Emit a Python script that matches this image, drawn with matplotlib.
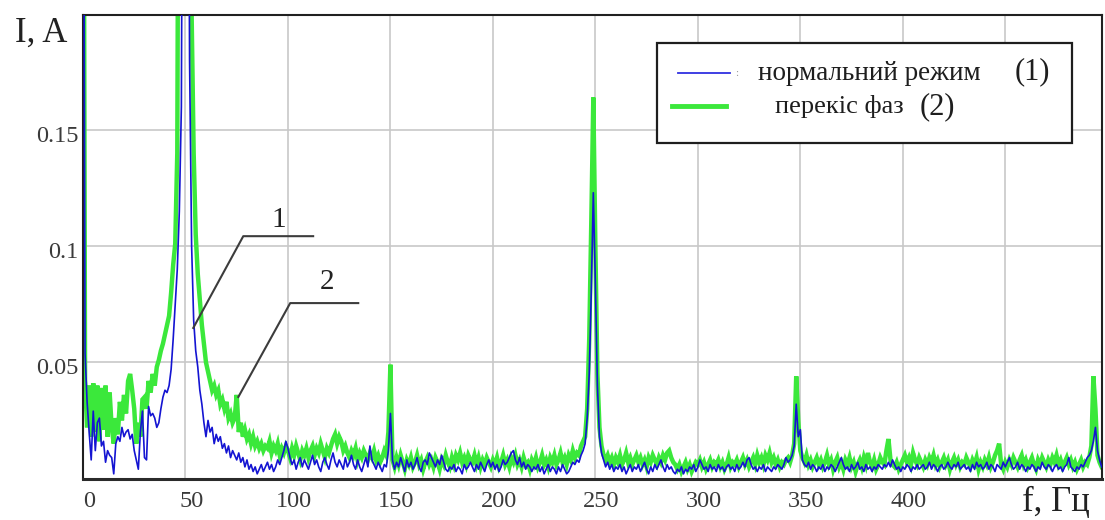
#!/usr/bin/python
"""
Current spectrum: normal mode vs. phase imbalance
"""

import numpy as np
import matplotlib
matplotlib.use("Agg")
import matplotlib.pyplot as plt
from matplotlib.transforms import ScaledTranslation
from matplotlib.lines import Line2D
from matplotlib.patches import Rectangle

plt.rcParams['font.family'] = ['Liberation Serif', 'DejaVu Serif']

# spectrum amplitude in mA, one value per 1 Hz starting from 0 Hz
i_normal_ma = [
    400, 54, 33, 20, 8, 29, 12, 24, 26, 14,
    16, 7, 12, 10, 9, 2, 15, 18, 16, 22,
    18, 20, 21, 17, 19, 12, 8, 4, 20, 29,
    9, 8, 31, 27, 28, 26, 22, 24, 30, 35,
    38, 37, 40, 47, 60, 75, 90, 115, 160, 400,
    400, 400, 180, 100, 68, 55, 48, 38, 32, 24,
    18, 25, 20, 22, 15, 19, 16, 18, 13, 15,
    11, 14, 9, 12, 10, 8, 11, 7, 9, 5,
    8, 4, 6, 3, 5, 2, 4, 6, 3, 5,
    7, 4, 6, 3, 5, 8, 6, 9, 12, 16,
    13, 9, 6, 8, 4, 7, 9, 5, 8, 6,
    4, 7, 10, 6, 8, 5, 3, 7, 9, 6,
    4, 8, 11, 7, 5, 8, 6, 4, 9, 5,
    7, 10, 6, 4, 8, 5, 3, 6, 9, 5,
    14, 8, 6, 4, 7, 5, 3, 6, 5, 12,
    28, 8, 4, 7, 5, 9, 6, 3, 8, 5,
    7, 4, 6, 9, 5, 3, 7, 8, 6, 11,
    9, 7, 5, 8, 6, 10, 7, 4, 3, 5,
    4, 6, 3, 5, 4, 2, 6, 4, 5, 7,
    5, 3, 6, 4, 7, 5, 3, 6, 8, 5,
    7, 4, 6, 3, 5, 8, 6, 7, 9, 11,
    12, 8, 6, 9, 5, 7, 4, 6, 5, 3,
    5, 4, 6, 3, 5, 2, 4, 6, 3, 5,
    4, 2, 5, 3, 6, 4, 2, 3, 5, 7,
    6, 8, 7, 10, 12, 15, 26, 45, 80, 123,
    84, 40, 18, 11, 8, 5, 7, 4, 6, 3,
    5, 4, 6, 3, 5, 2, 4, 6, 3, 5,
    4, 6, 3, 5, 7, 4, 2, 5, 3, 6,
    4, 6, 8, 5, 3, 6, 4, 5, 3, 2,
    4, 3, 5, 2, 4, 3, 5, 4, 6, 3,
    5, 8, 6, 4, 5, 3, 6, 4, 5, 3,
    6, 4, 5, 3, 5, 6, 4, 5, 3, 6,
    4, 5, 7, 5, 8, 9, 6, 4, 5, 3,
    5, 4, 6, 3, 5, 4, 3, 5, 4, 6,
    5, 4, 6, 9, 7, 8, 10, 14, 32, 18,
    21, 8, 6, 5, 7, 4, 6, 5, 3, 5,
    4, 6, 3, 5, 4, 6, 5, 3, 5, 7,
    9, 6, 4, 5, 3, 6, 4, 5, 7, 4,
    5, 3, 6, 4, 5, 3, 5, 4, 6, 5,
    4, 6, 5, 7, 5, 8, 6, 4, 5, 3,
    5, 4, 6, 5, 3, 5, 4, 6, 4, 5,
    6, 4, 5, 7, 4, 6, 5, 3, 5, 6,
    4, 5, 7, 5, 4, 6, 5, 7, 4, 5,
    6, 4, 5, 3, 6, 4, 7, 5, 6, 4,
    5, 7, 4, 6, 5, 3, 6, 5, 4, 7,
    5, 7, 9, 6, 4, 5, 7, 4, 6, 5,
    3, 5, 4, 6, 5, 3, 5, 4, 7, 5,
    4, 6, 5, 3, 5, 6, 4, 5, 3, 5,
    6, 9, 5, 4, 3, 5, 4, 6, 5, 7,
    9, 10, 12, 16, 22, 12, 8, 5,
]

i_skew_ma = [
    400, 42, 22, 40, 18, 41, 20, 40, 16, 39,
    21, 40, 18, 37, 22, 15, 26, 19, 33, 25,
    36, 28, 42, 45, 38, 30, 15, 24, 18, 34,
    35, 30, 42, 37, 45, 40, 48, 51, 55, 58,
    62, 66, 70, 80, 92, 101, 140, 400, 400, 400,
    400, 400, 400, 200, 140, 105, 88, 77, 66, 58,
    50, 46, 42, 38, 40, 36, 38, 32, 34, 30,
    33, 26, 28, 24, 26, 36, 20, 24, 18, 21,
    17, 19, 15, 18, 14, 16, 13, 15, 12, 14,
    13, 16, 11, 14, 12, 15, 10, 13, 11, 14,
    12, 9, 13, 10, 14, 11, 8, 12, 10, 13,
    9, 12, 14, 10, 13, 11, 15, 12, 9, 13,
    11, 14, 17, 19, 15, 18, 16, 12, 14, 11,
    9, 12, 10, 13, 8, 11, 9, 12, 10, 8,
    11, 9, 12, 8, 10, 7, 9, 12, 10, 20,
    49, 8, 5, 9, 6, 10, 7, 4, 8, 6,
    9, 5, 7, 10, 6, 8, 4, 7, 9, 6,
    8, 5, 9, 7, 4, 8, 6, 10, 7, 5,
    9, 6, 10, 8, 11, 7, 9, 6, 10, 8,
    7, 10, 6, 9, 5, 8, 6, 9, 7, 5,
    8, 6, 9, 5, 7, 10, 6, 8, 5, 9,
    7, 10, 6, 8, 5, 9, 6, 7, 4, 8,
    6, 9, 5, 7, 10, 6, 8, 5, 9, 7,
    10, 6, 8, 11, 7, 9, 6, 10, 8, 12,
    9, 11, 10, 14, 16, 18, 30, 60, 110, 164,
    100, 45, 22, 14, 10, 8, 10, 7, 9, 6,
    9, 7, 10, 6, 8, 11, 7, 9, 6, 8,
    10, 7, 9, 6, 8, 5, 9, 7, 10, 8,
    6, 9, 7, 10, 8, 11, 12, 9, 7, 6,
    4, 6, 3, 5, 7, 4, 6, 3, 5, 7,
    6, 8, 5, 7, 4, 6, 8, 5, 7, 6,
    8, 5, 7, 4, 6, 9, 5, 7, 6, 8,
    5, 7, 9, 6, 8, 5, 7, 9, 6, 10,
    7, 9, 6, 10, 8, 11, 7, 9, 6, 8,
    5, 7, 6, 8, 9, 7, 10, 15, 44, 25,
    12, 9, 7, 10, 6, 8, 5, 7, 9, 6,
    8, 5, 7, 10, 6, 8, 4, 7, 9, 5,
    7, 4, 8, 6, 9, 5, 7, 3, 6, 8,
    5, 9, 6, 11, 7, 5, 8, 4, 6, 9,
    7, 6, 12, 17, 8, 6, 5, 7, 4, 6,
    8, 10, 7, 9, 6, 11, 8, 6, 9, 7,
    5, 8, 6, 9, 7, 10, 6, 8, 5, 7,
    9, 6, 8, 4, 7, 9, 6, 8, 5, 7,
    6, 9, 7, 5, 8, 6, 9, 4, 7, 5,
    8, 6, 9, 5, 7, 10, 12, 15, 6, 4,
    7, 5, 8, 6, 9, 7, 5, 8, 10, 6,
    8, 5, 7, 9, 6, 4, 8, 6, 9, 7,
    5, 8, 6, 9, 7, 10, 6, 8, 5, 7,
    9, 6, 8, 5, 7, 4, 6, 8, 5, 7,
    6, 9, 14, 44, 30, 10, 7, 5,
]

x_ticks = [0, 50, 100, 150, 200, 250, 300, 350, 400, 450]
x_tick_labels = ['0', '50', '100', '150', '200', '250', '300', '350', '400', '']
y_ticks = [0.05, 0.1, 0.15]
y_tick_labels = ['0.05', '0.1', '0.15']

legend_labels = ['нормальний режим', 'перекіс фаз']
legend_marks = ['(1)', '(2)']

W, H = 1105, 520


def fpos(x, y):
    """pixel position (from top left) -> figure fraction"""
    return x / W, 1 - y / H


def main():
    fig = plt.figure(figsize=(W / 100, H / 100), dpi=100)
    ax = fig.add_axes([83 / W, 41.5 / H, 1019 / W, 463.5 / H])

    f_normal = np.arange(len(i_normal_ma))
    f_skew = np.arange(len(i_skew_ma))
    ax.plot(f_skew, np.array(i_skew_ma) / 1000, color='#3be83b', lw=3.2,
            solid_joinstyle='miter', zorder=2)
    ax.plot(f_normal, np.array(i_normal_ma) / 1000, color='#1414d2', lw=1.2,
            zorder=3)

    ax.set_xlim(0.15, 497.2)
    ax.set_ylim(0, 0.1995)

    ax.set_xticks(x_ticks)
    ax.set_xticklabels(x_tick_labels)
    ax.set_yticks(y_ticks)
    ax.set_yticklabels(y_tick_labels)
    ax.grid(True, color='#c8c8c8', lw=1.2, zorder=0)
    ax.set_axisbelow(True)
    ax.tick_params(axis='both', length=0, labelsize=17.5, labelcolor='#3a3a3a')
    ax.tick_params(axis='x', pad=9)
    ax.tick_params(axis='y', pad=3)

    for lbl in ax.get_xticklabels():
        lbl.set_transform(lbl.get_transform() + ScaledTranslation(6 / 100, 0, fig.dpi_scale_trans))
    for lbl in ax.get_yticklabels():
        lbl.set_transform(lbl.get_transform() + ScaledTranslation(0, -4 / 100, fig.dpi_scale_trans))

    for side in ('top', 'right', 'left'):
        ax.spines[side].set_color('#202020')
        ax.spines[side].set_linewidth(1.5)
    ax.spines['bottom'].set_color('#2a2a2a')
    ax.spines['bottom'].set_linewidth(2.2)

    # axis captions
    fig.text(*fpos(41, 33), 'I, A', fontsize=25, ha='center', va='center', color='#222222')
    fig.text(*fpos(1056, 502), 'f, Гц', fontsize=25, ha='center', va='center', color='#222222')

    # leader lines to the curves
    ax.plot([53.8, 78.2, 112.3], [0.0648, 0.1043, 0.1043], color='#3c3c3c', lw=1.5, zorder=4)
    ax.plot([75.8, 101.1, 134.3], [0.0351, 0.0755, 0.0755], color='#3c3c3c', lw=1.5, zorder=4)
    ax.text(95.3, 0.1112, '1', fontsize=21, ha='center', va='center', color='#222222')
    ax.text(119.2, 0.0846, '2', fontsize=21, ha='center', va='center', color='#222222')

    # legend box
    x0, y0 = fpos(657, 143)
    x1, y1 = fpos(1072, 43)
    fig.add_artist(Rectangle((x0, y0), x1 - x0, y1 - y0, transform=fig.transFigure,
                             facecolor='white', edgecolor='#1e1e1e', lw=1.6, zorder=5))
    bx0, by = fpos(678, 73)
    bx1, _ = fpos(730, 73)
    fig.add_artist(Line2D([bx0, bx1], [by, by], transform=fig.transFigure,
                          color='#3030e0', lw=1.3, zorder=6))
    gx0, gy = fpos(672, 106)
    gx1, _ = fpos(726, 106)
    fig.add_artist(Line2D([gx0, gx1], [gy, gy], transform=fig.transFigure,
                          color='#3be83b', lw=3.5, zorder=6))
    fig.text(*fpos(737, 74), ':', fontsize=8, ha='center', va='center', color='#999999', zorder=6)
    fig.text(*fpos(758, 73), legend_labels[0], fontsize=19.5, ha='left', va='center',
             color='#1e1e1e', zorder=6)
    fig.text(*fpos(775, 107), legend_labels[1], fontsize=19, ha='left', va='center',
             color='#1e1e1e', zorder=6)
    fig.text(*fpos(1032, 72), legend_marks[0], fontsize=22, ha='center', va='center',
             color='#1e1e1e', zorder=6)
    fig.text(*fpos(937, 107), legend_marks[1], fontsize=22, ha='center', va='center',
             color='#1e1e1e', zorder=6)

    fig.savefig('out.png', dpi=100)
    plt.close()


if __name__ == "__main__":
    main()
